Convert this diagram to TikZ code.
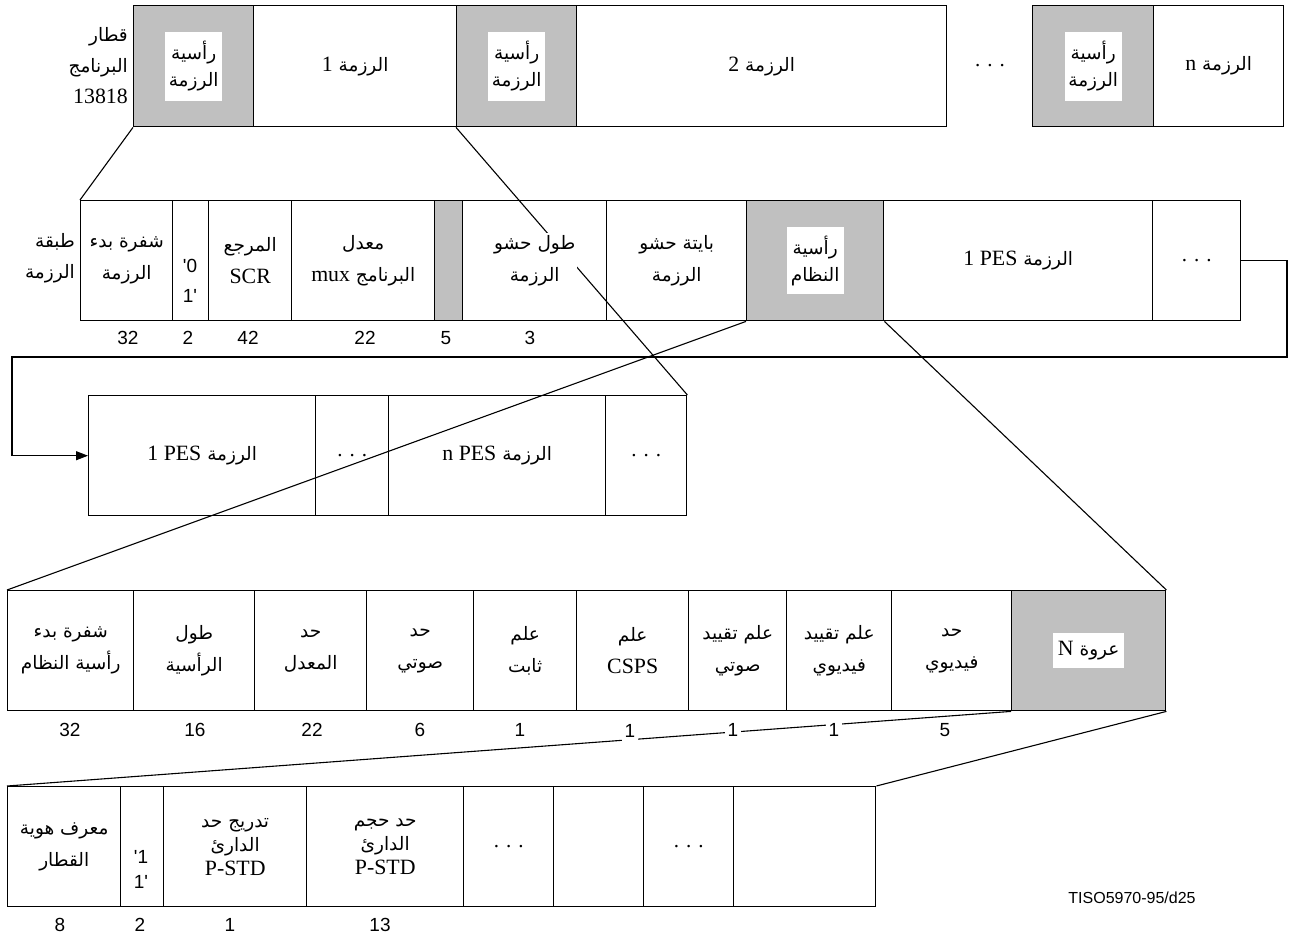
\documentclass[tikz,border=0pt]{standalone}
\usepackage{fontspec}
\setmainfont{Liberation Serif}
\newfontfamily\arfont[Script=Arabic]{DejaVu Sans}
\newfontfamily\numfont{Liberation Sans}
\newfontfamily\latfont[Scale=1.18]{Liberation Serif}
\TeXXeTstate=1
\usetikzlibrary{arrows.meta,backgrounds}
\definecolor{hdrgrey}{RGB}{192,192,192}
\newcommand\AR[1]{{\arfont\beginR #1\endR}}
\newcommand\LT[1]{{\latfont #1}}
\newcommand\cbox[7]{\node[#6,anchor=north west,minimum width={#3-#2},minimum height={#5-#4}] (#1) at (#2,#4) {#7};}
\begin{document}
\begin{tikzpicture}[x=1pt,y=-1pt,
 cell/.style={draw,line width=1.4pt,inner sep=0pt,align=center,font=\arfont\fontsize{18.5}{32}\selectfont},
 hdr/.style={cell,fill=hdrgrey},
 dotcell/.style={cell,font=\rmfamily\fontsize{21}{20}\selectfont},
 wbox/.style={fill=white,inner sep=3pt,align=center,font=\arfont\fontsize{18.5}{27}\selectfont},
 txt/.style={fill=white,inner sep=2pt,align=center,font=\arfont\fontsize{18.5}{32}\selectfont},
 three/.style={cell,font=\arfont\fontsize{18.5}{24}\selectfont},
 num/.style={font=\numfont\fontsize{19}{20}\selectfont,fill=white,inner xsep=3pt,inner ysep=3pt},
 qnum/.style={font=\numfont\fontsize{19}{30}\selectfont,align=center,inner sep=0pt},
 conn/.style={line width=1.1pt},
 lab/.style={align=right,inner sep=0pt,font=\arfont\fontsize{18.5}{31}\selectfont},
 dots/.style={font=\rmfamily\fontsize{21}{20}\selectfont}]
\useasboundingbox (0,0) rectangle (1290,938);
% ---------- row 1
\cbox{h1}{133}{253}{5}{126}{hdr}{}
\cbox{p1}{253}{456}{5}{126}{cell}{\AR{الرزمة \LT{1}}}
\cbox{h2}{456}{576}{5}{126}{hdr}{}
\cbox{p2}{576}{946}{5}{126}{cell}{\AR{الرزمة \LT{2}}}
\node[dots] (d1) at (990,66) {. . .};
\cbox{h3}{1032}{1153}{5}{126}{hdr}{}
\cbox{pn}{1153}{1283}{5}{126}{cell}{\AR{الرزمة \LT{n}}}
\node[wbox,minimum width=57,minimum height=69] (h1t) at (h1) {\AR{رأسية}\\\AR{الرزمة}};
\node[wbox,minimum width=57,minimum height=69] (h2t) at (h2) {\AR{رأسية}\\\AR{الرزمة}};
\node[wbox,minimum width=57,minimum height=69] (h3t) at (h3) {\AR{رأسية}\\\AR{الرزمة}};
\node[lab,anchor=east] (l1) at (128,66) {\AR{قطار}\\\AR{البرنامج}\\\LT{13818}};
% ---------- row 2
\cbox{r2a}{80}{172}{200}{320}{cell}{\AR{شفرة بدء}\\\AR{الرزمة}}
\cbox{r2b}{172}{208}{200}{320}{cell}{}
\node[qnum] (r2bt) at (190,281) {\textquotesingle0\\1\textquotesingle};
\cbox{r2c}{208}{291}{200}{320}{cell}{\AR{المرجع}\\\LT{SCR}}
\cbox{r2d}{291}{434}{200}{320}{cell}{\AR{معدل}\\\AR{البرنامج \LT{mux}}}
\cbox{r2e}{434}{462}{200}{320}{hdr}{}
\cbox{r2f}{462}{606}{200}{320}{cell}{}
\node[txt] (r2ft) at (r2f) {\AR{طول حشو}\\\AR{الرزمة}};
\cbox{r2g}{606}{746}{200}{320}{cell}{\AR{بايتة حشو}\\\AR{الرزمة}}
\cbox{r2h}{746}{883}{200}{320}{hdr}{}
\node[wbox,minimum width=57,minimum height=67] (r2ht) at (r2h) {\AR{رأسية}\\\AR{النظام}};
\cbox{r2i}{883}{1152}{200}{320}{cell}{\AR{الرزمة \LT{\beginL 1 PES\endL}}}
\cbox{r2j}{1152}{1240}{200}{320}{dotcell}{. . .}
\node[lab,anchor=east] (l2) at (75,258) {\AR{طبقة}\\\AR{الرزمة}};
\node[num] (n21) at (128,338) {32};
\node[num] (n22) at (188,338) {2};
\node[num] (n23) at (248,338) {42};
\node[num] (n24) at (365,338) {22};
\node[num] (n25) at (446,338) {5};
\node[num] (n26) at (530,338) {3};
% ---------- row 3
\cbox{r3a}{88}{315}{395}{515}{cell}{\AR{الرزمة \LT{\beginL 1 PES\endL}}}
\cbox{r3b}{315}{388}{395}{515}{dotcell}{. . .}
\cbox{r3c}{388}{605}{395}{515}{cell}{\AR{الرزمة \LT{\beginL n PES\endL}}}
\cbox{r3d}{605}{686}{395}{515}{dotcell}{. . .}
% ---------- row 4
\cbox{r4a}{7}{133}{590}{710}{cell}{\AR{شفرة بدء}\\\AR{رأسية النظام}}
\cbox{r4b}{133}{254}{590}{710}{cell}{\AR{طول}\\\AR{الرأسية}}
\cbox{r4c}{254}{366}{590}{710}{cell}{\AR{حد}\\\AR{المعدل}}
\cbox{r4d}{366}{473}{590}{710}{cell}{\AR{حد}\\\AR{صوتي}}
\cbox{r4e}{473}{576}{590}{710}{cell}{\AR{علم}\\\AR{ثابت}}
\cbox{r4f}{576}{688}{590}{710}{cell}{\AR{علم}\\\LT{CSPS}}
\cbox{r4g}{688}{786}{590}{710}{cell}{\AR{علم تقييد}\\\AR{صوتي}}
\cbox{r4h}{786}{891}{590}{710}{cell}{\AR{علم تقييد}\\\AR{فيديوي}}
\cbox{r4i}{891}{1011}{590}{710}{cell}{\AR{حد}\\\AR{فيديوي}}
\cbox{r4j}{1011}{1165}{590}{710}{hdr}{}
\node[wbox,minimum width=71,minimum height=35] (r4jt) at (r4j) {\AR{عروة \LT{N}}};
\node[num] (n41) at (70,730) {32};
\node[num] (n42) at (195,730) {16};
\node[num] (n43) at (312,730) {22};
\node[num] (n44) at (420,730) {6};
\node[num] (n45) at (520,730) {1};
\node[num] (n46) at (630,731) {1};
\node[num] (n47) at (733,730) {1};
\node[num] (n48) at (834,730) {1};
\node[num] (n49) at (945,730) {5};
% ---------- row 5
\cbox{r5a}{7}{120}{786}{906}{cell}{\AR{معرف هوية}\\\AR{القطار}}
\cbox{r5b}{120}{163}{786}{906}{cell}{}
\node[qnum,font=\numfont\fontsize{19}{25}\selectfont] (r5bt) at (141,869) {\textquotesingle1\\1\textquotesingle};
\cbox{r5c}{163}{306}{786}{906}{three}{\AR{تدريج حد}\\\AR{الدارئ}\\\LT{P-STD}}
\cbox{r5d}{306}{463}{786}{906}{three}{\AR{حد حجم}\\\AR{الدارئ}\\\LT{P-STD}}
\cbox{r5e}{463}{553}{786}{906}{dotcell}{. . .}
\cbox{r5f}{553}{643}{786}{906}{cell}{}
\cbox{r5g}{643}{733}{786}{906}{dotcell}{. . .}
\cbox{r5h}{733}{875}{786}{906}{cell}{}
\node[num] (n51) at (60,925) {8};
\node[num] (n52) at (140,925) {2};
\node[num] (n53) at (230,925) {1};
\node[num] (n54) at (380,925) {13};
\node[font=\numfont\fontsize{16}{18}\selectfont] (tiso) at (1132,898) {TISO5970-95/d25};
% ---------- connectors
\coordinate (k1) at (1287,357);
\coordinate (k2) at (12,357);
\begin{scope}[on background layer]
\fill[white] (0,0) rectangle (1290,938);
\draw[conn] (h1.south west) -- (r2a.north west);
\draw[conn] (h2.south west) -- (r3d.north east);
\draw[conn] (r2h.south west) -- (r4a.north west);
\draw[conn] (r2h.south east) -- (r4j.north east);
\draw[conn] (r4j.south west) -- (r5a.north west);
\draw[conn] (r4j.south east) -- (r5h.north east);
\draw[conn,-{Triangle[length=12pt,width=9pt]}] (r2j.east) -| (k1) -- (k2) |- (r3a.west);
\end{scope}
\end{tikzpicture}
\end{document}
